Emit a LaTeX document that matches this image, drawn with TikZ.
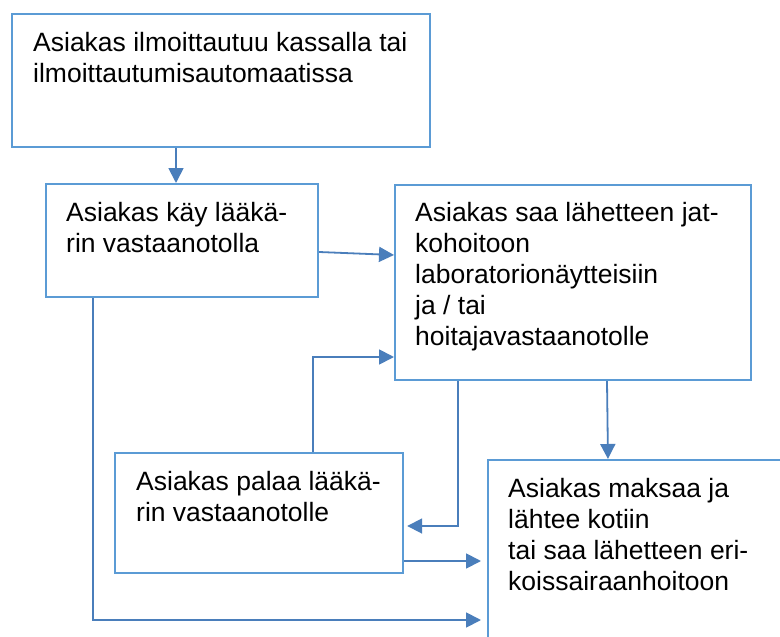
\documentclass[tikz,border=0pt]{standalone}
\usepackage{fontspec}
\setmainfont{Liberation Sans}
\usetikzlibrary{arrows.meta}
\definecolor{boxblue}{RGB}{91,155,213}
\definecolor{arrblue}{RGB}{74,126,187}
\begin{document}
\begin{tikzpicture}[x=1pt,y=-1pt,
  box/.style={draw=boxblue,line width=2.2pt,inner sep=0pt,anchor=north west},
  txt/.style={inner sep=0pt,anchor=north west,align=left,font=\fontsize{26.5}{31}\selectfont},
  arr/.style={draw=arrblue,line width=1.8pt,-{Triangle[length=15pt,width=15pt]}}]
\clip (0,0) rectangle (780,637);
\fill[white] (0,0) rectangle (780,637);
\node[box,minimum width=418pt,minimum height=133pt] (b1) at (11,13) {};
\node[box,minimum width=272pt,minimum height=113pt] (b2) at (45,183) {};
\node[box,minimum width=356pt,minimum height=195pt] (b3) at (394,184) {};
\node[box,minimum width=288pt,minimum height=120pt] (b4) at (114,452) {};
\node[box,minimum width=320pt,minimum height=220pt] (b5) at (487,459) {};
\node[txt] (t1) at (33,32) {Asiakas ilmoittautuu kassalla tai\\ilmoittautumisautomaatissa};
\node[txt] (t2) at (66,202) {Asiakas käy lääkä-\\rin vastaanotolla};
\node[txt] (t3) at (415,202) {Asiakas saa lähetteen jat-\\kohoitoon\\laboratorionäytteisiin\\ja / tai\\hoitajavastaanotolle};
\node[txt] (t4) at (136,471) {Asiakas palaa lääkä-\\rin vastaanotolle};
\node[txt] (t5) at (508,478) {Asiakas maksaa ja\\lähtee kotiin\\tai saa lähetteen eri-\\koissairaanhoitoon};
\draw[arr] ([xshift=165pt]b1.south west) -- ([xshift=131pt]b2.north west);
\draw[arr] ([yshift=-69pt]b2.north east) -- ([yshift=-71pt]b3.north west);
\draw[arr] ([xshift=199pt]b4.north west) |- ([yshift=-173pt]b3.north west);
\draw[arr] ([xshift=64pt]b3.south west) |- ([yshift=-74pt,xshift=3pt]b4.north east);
\draw[arr] ([yshift=-109pt]b4.north east) -- ([yshift=-102pt,xshift=-6pt]b5.north west);
\draw[arr] ([xshift=48pt]b2.south west) |- ([yshift=-161pt,xshift=-6pt]b5.north west);
\draw[arr] ([xshift=213pt]b3.south west) -- ([xshift=121pt]b5.north west);
\end{tikzpicture}
\end{document}
